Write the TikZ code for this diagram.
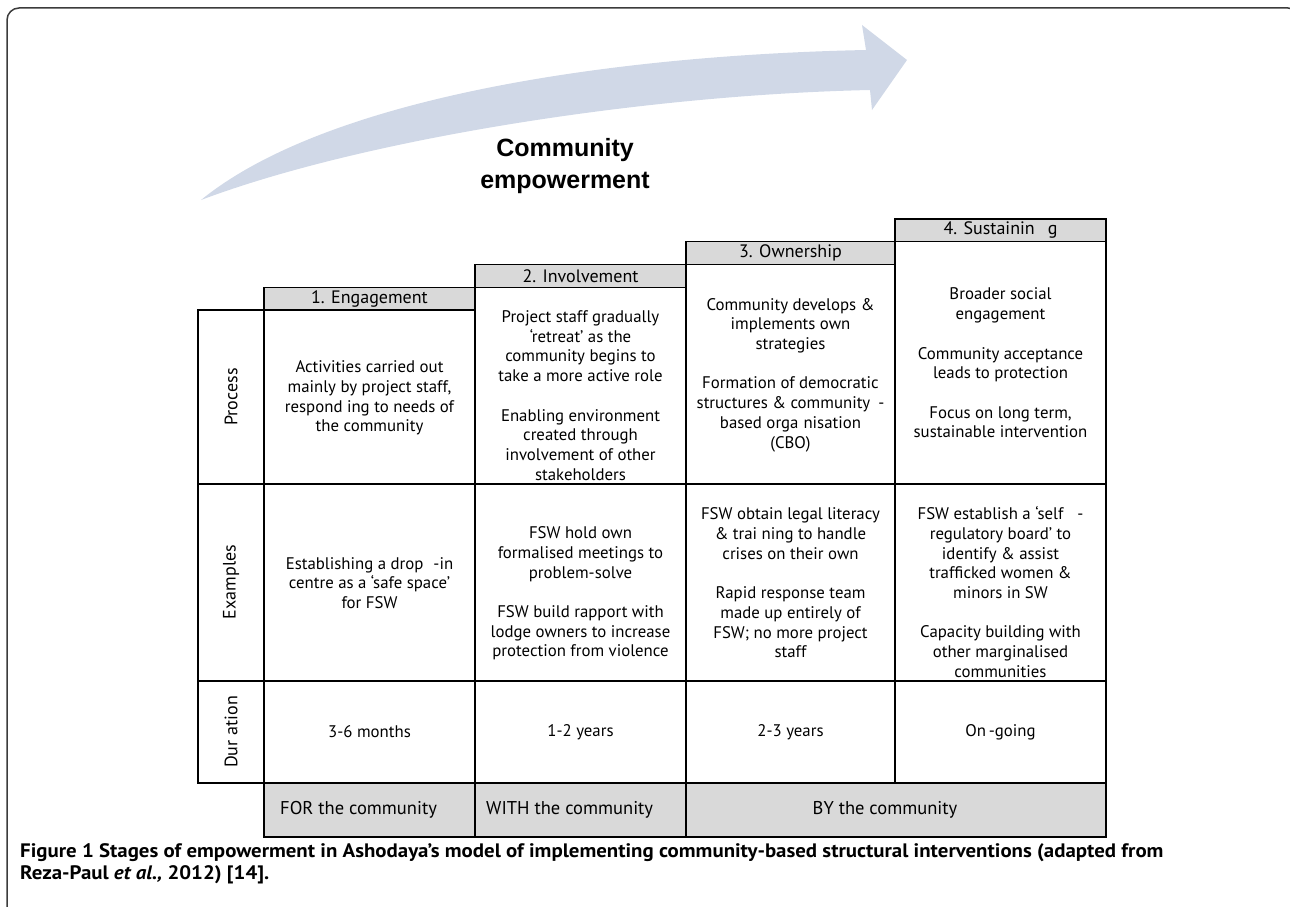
\documentclass[tikz,border=0pt]{standalone}
\usepackage{fontspec}
\setmainfont{PT Sans}
\newfontfamily\arialfont{Liberation Sans}
\newfontfamily\ptfont{PT Sans}
\newfontfamily\ptcapfont[FakeStretch=1.07]{PT Sans}
\newcommand\tabfont{\ptfont\fontsize{16.8}{19.7}\selectfont}
\newcommand\hdrfont{\ptfont\fontsize{18}{20}\selectfont}
\newcommand\botfont{\ptfont\fontsize{18.5}{20}\selectfont}
\newcommand\capfont{\ptcapfont\bfseries\fontsize{19.5}{21}\selectfont}
\definecolor{arrowc}{RGB}{208,216,231}
\definecolor{cellgray}{RGB}{217,217,217}
\definecolor{framec}{RGB}{60,60,60}
\pgfdeclarehorizontalshading{arrowfade}{100bp}{color(0bp)=(white); color(9bp)=(white!45!arrowc); color(22bp)=(arrowc); color(100bp)=(arrowc)}
\begin{document}
\begin{tikzpicture}[x=1pt,y=-1pt,
  cell/.style={draw=black, line width=1.1pt},
  hdr/.style={cell, fill=cellgray},
  txt/.style={font=\tabfont, align=center, inner sep=0pt},
  htxt/.style={txt, font=\hdrfont},
  btxt/.style={txt, font=\botfont},
  lab/.style={txt, font=\hdrfont, rotate=90}]
\useasboundingbox (0,0) rectangle (1290,907);
\clip (0,0) rectangle (1290,907);
% frame
\draw[framec, line width=1.5pt, rounded corners=12pt] (7,940) -- (7,8) -- (1300,8) -- (1300,940);
% arrow
\shade[shading=arrowfade] (201,200) .. controls (330,95) and (620,55) .. (866,50)
  -- (862,25) -- (907,60) -- (872,110) -- (870,90)
  .. controls (640,95) and (360,140) .. (201,200) -- cycle;
\node[font=\arialfont\bfseries\fontsize{25}{32}\selectfont, align=center] (ce) at (565,166) {Community\\empowerment};
% headers
\path[hdr] (264,287.5) rectangle (475,310);
\path[hdr] (475,264.5) rectangle (686,287.5);
\path[hdr] (686,241.5) rectangle (895,264.5);
\path[hdr] (895,219) rectangle (1106,241.5);
% process row
\path[cell] (198,310) rectangle (264,484);
\path[cell] (264,310) rectangle (475,484);
\path[cell] (475,287.5) rectangle (686,484);
\path[cell] (686,264.5) rectangle (895,484);
\path[cell] (895,241.5) rectangle (1106,484);
% examples row
\path[cell] (198,484) rectangle (264,681);
\path[cell] (264,484) rectangle (475,681);
\path[cell] (475,484) rectangle (686,681);
\path[cell] (686,484) rectangle (895,681);
\path[cell] (895,484) rectangle (1106,681);
% duration row
\path[cell] (198,681) rectangle (264,783);
\path[cell] (264,681) rectangle (475,783);
\path[cell] (475,681) rectangle (686,783);
\path[cell] (686,681) rectangle (895,783);
\path[cell] (895,681) rectangle (1106,783);
% bottom row
\path[hdr] (264,783) rectangle (475,837);
\path[hdr] (475,783) rectangle (686,837);
\path[hdr] (686,783) rectangle (1106,837);
% header texts
\node[htxt] (h1) at (369.5,299) {1. Engagement};
\node[htxt] (h2) at (580.5,276) {2. Involvement};
\node[htxt] (h3) at (790.5,253) {3. Ownership};
\node[htxt] (h4) at (1000.5,230) {4. Sustainin\hspace{13pt}g};
% row labels
\node[lab] (lp) at (231,397) {Process};
\node[lab] (le) at (231,582) {Examples};
\node[lab] (ld) at (231,732) {Dur ation};
% process texts
\node[txt] (p1) at (369.5,398) {Activities carried out\\mainly by project staff,\\respond ing to needs of\\the community};
\node[txt] (p2) at (580.5,395.5) {Project staff gradually\\‘retreat’ as the\\community begins to\\take a more active role\\[19.7pt]Enabling environment\\created through\\involvement of other\\stakeholders};
\node[txt] (p3) at (790.5,375) {Community develops \&\\implements own\\strategies\\[19.7pt]Formation of democratic\\structures \& community\hspace{8pt}-\\based orga\hspace{5pt}nisation\\(CBO)};
\node[txt] (p4) at (1000.5,363) {Broader social\\engagement\\[19.7pt]Community acceptance\\leads to protection\\[19.7pt]Focus on long term,\\sustainable intervention};
% examples texts
\node[txt] (e1) at (369.5,583) {Establishing a drop\hspace{10pt}-in\\centre as a ‘safe space’\\for FSW};
\node[txt] (e2) at (580.5,593.4) {FSW hold own\\formalised meetings to\\problem-solve\\[19.7pt]FSW build rapport with\\lodge owners to increase\\protection from violence};
\node[txt] (e3) at (790.5,583) {FSW obtain legal literacy\\\& trai ning to handle\\crises on their own\\[19.7pt]Rapid response team\\made up entirely of\\FSW; no more project\\staff};
\node[txt] (e4) at (1000.5,592) {FSW establish a ‘self\hspace{14pt}-\\regulatory board’ to\\identify \& assist\\trafficked women \&\\minors in SW\\[19.7pt]Capacity building with\\other marginalised\\communities};
% duration texts
\node[txt] (d1) at (369.5,732) {3-6 months};
\node[txt] (d2) at (580.5,732) {1-2 years};
\node[txt] (d3) at (790.5,732) {2-3 years};
\node[txt] (d4) at (1000.5,732) {On\,-going};
% bottom texts
\node[btxt, anchor=west] (b1) at (280,810) {FOR the community};
\node[btxt, anchor=west] (b2) at (486,810) {WITH the community};
\node[btxt] (b3) at (885,810) {BY the community};
% caption
\node[font=\capfont, anchor=west, inner sep=0pt] (cap1) at (20,853) {Figure 1 Stages of empowerment in Ashodaya’s model of implementing community-based structural interventions (adapted from};
\node[font=\capfont, anchor=west, inner sep=0pt] (cap2) at (20,875) {Reza-Paul \textit{et al.,} 2012) [14].};
\end{tikzpicture}
\end{document}
